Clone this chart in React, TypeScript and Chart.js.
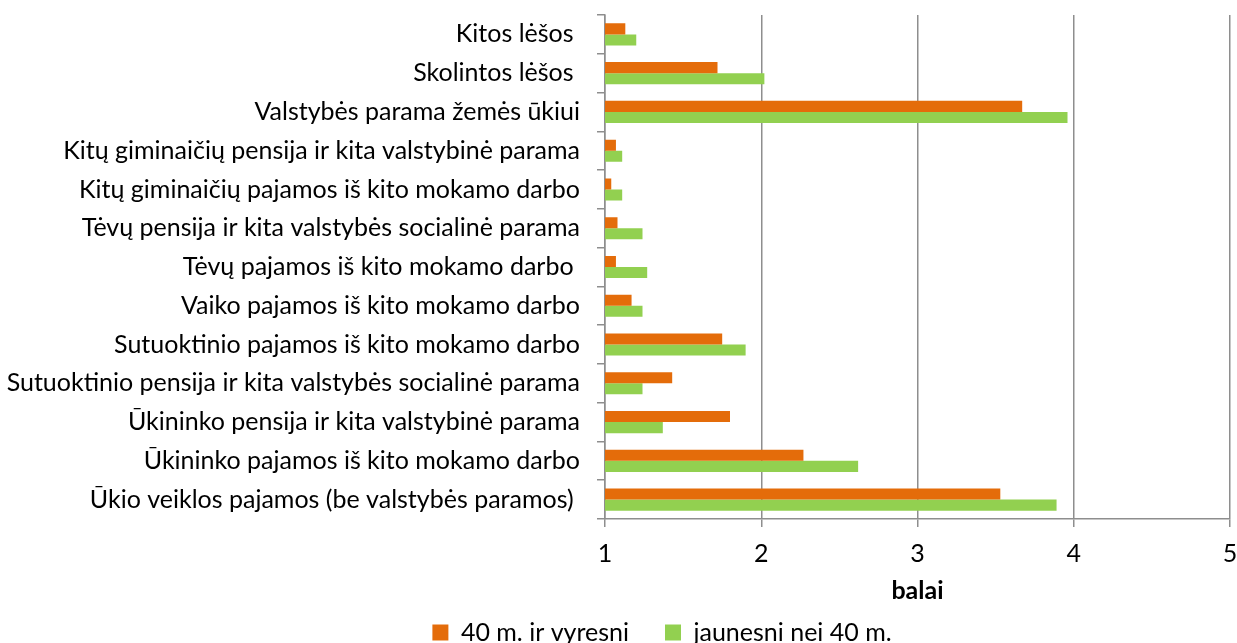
import React, { useEffect, useRef } from "react";
import { Chart, registerables } from "chart.js";

Chart.register(...registerables);

const categories = [
  "Kitos lėšos ",
  "Skolintos lėšos ",
  "Valstybės parama žemės ūkiui",
  "Kitų giminaičių pensija ir kita valstybinė parama",
  "Kitų giminaičių pajamos iš kito mokamo darbo",
  "Tėvų pensija ir kita valstybės socialinė parama",
  "Tėvų pajamos iš kito mokamo darbo ",
  "Vaiko pajamos iš kito mokamo darbo",
  "Sutuoktinio pajamos iš kito mokamo darbo",
  "Sutuoktinio pensija ir kita valstybės socialinė parama",
  "Ūkininko pensija ir kita valstybinė parama",
  "Ūkininko pajamos iš kito mokamo darbo",
  "Ūkio veiklos pajamos (be valstybės paramos) ",
];

const olderLabel = "40 m. ir vyresni";
const olderValues = [1.13, 1.72, 3.67, 1.07, 1.04, 1.08, 1.07, 1.17, 1.75, 1.43, 1.8, 2.27, 3.53];

const youngerLabel = "jaunesni nei 40 m.";
const youngerValues = [1.2, 2.02, 3.96, 1.11, 1.11, 1.24, 1.27, 1.24, 1.9, 1.24, 1.37, 2.62, 3.89];

const xTicks = [1, 2, 3, 4, 5];
const xTitle = "balai";

const FONT = "Lato, 'Open Sans', sans-serif";
const FS = 25;
const GRID = "#8e8e8e";

const legendShift = {
  id: "legendShift",
  afterLayout(chart: any) {
    if (chart.legend) chart.legend.left += 94;
  },
};

export default function App() {
  const ref = useRef<HTMLCanvasElement | null>(null);

  useEffect(() => {
    document.body.style.margin = "0";
    if (!ref.current) return;
    const chart = new Chart(ref.current, {
      type: "bar",
      data: {
        labels: categories,
        datasets: [
          {
            label: olderLabel,
            data: olderValues,
            backgroundColor: "#E46C0A",
            categoryPercentage: 0.57,
            barPercentage: 1.0,
          },
          {
            label: youngerLabel,
            data: youngerValues,
            backgroundColor: "#92D050",
            categoryPercentage: 0.57,
            barPercentage: 1.0,
          },
        ],
      },
      plugins: [legendShift],
      options: {
        indexAxis: "y",
        responsive: true,
        maintainAspectRatio: false,
        animation: false,
        layout: { padding: { top: 15, right: 7, left: 0, bottom: -12 } },
        plugins: {
          tooltip: { enabled: false },
          legend: {
            display: true,
            position: "bottom",
            labels: {
              color: "#000",
              font: { family: FONT, size: FS },
              boxWidth: 16,
              boxHeight: 16,
              padding: 36,
            },
          },
        },
        scales: {
          x: {
            min: xTicks[0],
            max: xTicks[xTicks.length - 1],
            afterBuildTicks: (s: any) => {
              s.ticks = xTicks.map((v) => ({ value: v }));
            },
            afterFit: (s: any) => {
              s.paddingLeft = 0;
              s.paddingRight = 0;
            },
            ticks: {
              color: "#000",
              font: { family: FONT, size: FS },
              padding: 12,
            },
            grid: {
              color: GRID,
              lineWidth: 1.5,
              drawTicks: true,
              tickLength: 8,
              tickColor: GRID,
            },
            border: { color: GRID, width: 1.5 },
            title: {
              display: true,
              text: xTitle,
              color: "#000",
              font: { family: FONT, size: FS, weight: "bold" },
              padding: { top: -5, bottom: -22 },
            },
          },
          y: {
            afterFit: (s: any) => {
              s.width = 605;
              s.paddingTop = 0;
              s.paddingBottom = 0;
            },
            ticks: {
              color: "#000",
              font: { family: FONT, size: FS },
              padding: 17,
              autoSkip: false,
            },
            grid: {
              drawOnChartArea: false,
              drawTicks: true,
              tickLength: 8,
              color: GRID,
              tickColor: GRID,
              lineWidth: 1.5,
              offset: true,
            },
            border: { color: GRID, width: 1.5 },
          },
        },
      },
    });
    return () => chart.destroy();
  }, []);

  return (
    <div style={{ width: "1237px", height: "643px", position: "relative" }}>
      <canvas ref={ref} />
    </div>
  );
}
